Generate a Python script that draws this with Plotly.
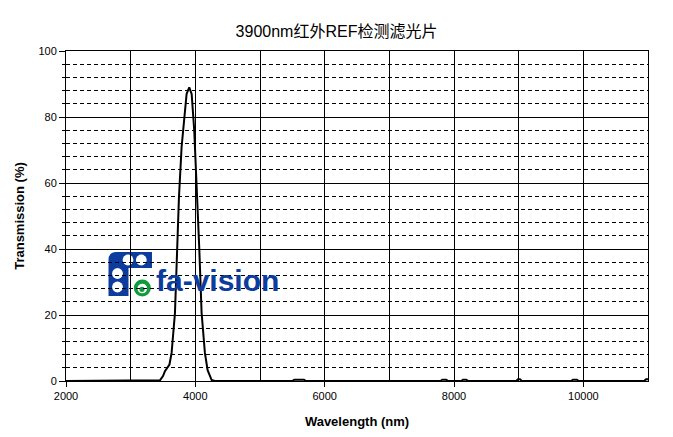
import plotly.graph_objects as go

# ---- data ----
wavelength_nm = [2000, 3000, 3400, 3453, 3500, 3530, 3600, 3633, 3685, 3711, 3747, 3788,
                 3829, 3865, 3906, 3943, 3983, 4020, 4060, 4097, 4148, 4190, 4252, 4300,
                 5500, 5530, 5600, 5680, 5710, 7790, 7820, 7880, 7910, 8110, 8140, 8190,
                 8220, 8960, 8990, 9020, 9050, 9810, 9840, 9900, 9930, 10940, 10970, 11000]
transmission_pct = [0.0, 0.0, 0.0, 0.2, 1.5, 3.0, 5.0, 8.5, 20.6, 35.7, 55.8, 71.0,
                    81.0, 87.0, 89.0, 87.0, 76.0, 61.0, 40.7, 20.6, 8.5, 3.3, 0.3, 0.0,
                    0.0, 0.4, 0.4, 0.4, 0.0, 0.0, 0.4, 0.4, 0.0, 0.0, 0.4, 0.4,
                    0.0, 0.0, 0.5, 0.5, 0.0, 0.0, 0.4, 0.4, 0.0, 0.0, 0.5, 0.5]

title_text = "3900nm红外REF检测滤光片"
x_title = "Wavelength (nm)"
y_title = "Transmission (%)"
logo_text = "fa-vision"

W, H = 673, 437
L, R, T, B = 66, 25, 51, 56
PW, PH = W - L - R, H - T - B


def px(x):
    return (x - L) / PW


def py(y):
    return (H - B - y) / PH


fig = go.Figure()
fig.add_trace(go.Scatter(x=wavelength_nm, y=transmission_pct, mode="lines",
                         line=dict(color="black", width=2), hoverinfo="skip",
                         showlegend=False))

BLUE = "#0c3c9e"
GREEN = "#0f9a3c"
shapes = []
path = (f"M {px(108.5)},{py(296)} L {px(108.5)},{py(260)} "
        f"Q {px(108.5)},{py(252)} {px(116.5)},{py(252)} "
        f"L {px(152)},{py(252)} L {px(152)},{py(268)} L {px(128.5)},{py(268)} "
        f"L {px(128.5)},{py(296)} Z")
shapes.append(dict(type="path", path=path, xref="paper", yref="paper",
                   fillcolor=BLUE, line=dict(width=0), layer="between"))


def circ(cx, cy, r, color):
    return dict(type="circle", xref="paper", yref="paper",
                x0=px(cx - r), x1=px(cx + r), y0=py(cy + r), y1=py(cy - r),
                fillcolor=color, line=dict(width=0), layer="between")


for (cx, cy) in [(128.0, 260.0), (141.3, 260.0), (117.5, 273.5), (117.5, 287.0)]:
    shapes.append(circ(cx, cy, 5.4, "white"))
shapes.append(circ(142.3, 288, 8.5, GREEN))
shapes.append(circ(142.3, 288.5, 4.8, "white"))
shapes.append(circ(142.0, 289.3, 2.6, GREEN))

fig.update_layout(
    width=W, height=H,
    margin=dict(l=L, r=R, t=T, b=B, pad=0, autoexpand=False),
    paper_bgcolor="white", plot_bgcolor="white",
    font=dict(family="Liberation Sans, Arial, Noto Sans CJK SC", color="black", size=11),
    title=dict(text=title_text, x=0.5, xanchor="center", y=1 - 31 / H, yanchor="middle",
               font=dict(size=16, family="Liberation Sans, Arial, Noto Sans CJK SC", color="black")),
    shapes=shapes,
    annotations=[dict(text=logo_text, xref="paper", yref="paper", x=px(154), y=py(280),
                      xanchor="left", yanchor="middle", showarrow=False,
                      font=dict(family="Liberation Sans, Arial", size=30, color=BLUE, weight="bold"))],
)

fig.update_xaxes(
    range=[2000, 11000], tick0=2000, dtick=2000, tickformat="d", ticks="outside", ticklen=5,
    tickwidth=1, tickcolor="black", showline=True, mirror=True, linecolor="black", linewidth=1,
    showgrid=True, gridcolor="black", gridwidth=1, zeroline=False, automargin=False,
    tickfont=dict(size=11),
    minor=dict(dtick=1000, showgrid=True, gridcolor="black", gridwidth=1, ticks=""),
    title=dict(text=x_title, font=dict(size=13, weight="bold"), standoff=15),
)
fig.update_yaxes(
    range=[0, 100], tick0=0, dtick=20, tickformat="d", ticks="outside", ticklen=6, tickwidth=1,
    tickcolor="black", showline=True, mirror=True, linecolor="black", linewidth=1,
    showgrid=True, gridcolor="black", gridwidth=1, zeroline=False, automargin=False,
    tickfont=dict(size=11),
    minor=dict(dtick=4, showgrid=True, gridcolor="black", gridwidth=1, griddash="4px,3px",
               ticks="outside", ticklen=3, tickcolor="black"),
    title=dict(text=y_title, font=dict(size=13, weight="bold"), standoff=10),
)

fig.write_html("out.html")
